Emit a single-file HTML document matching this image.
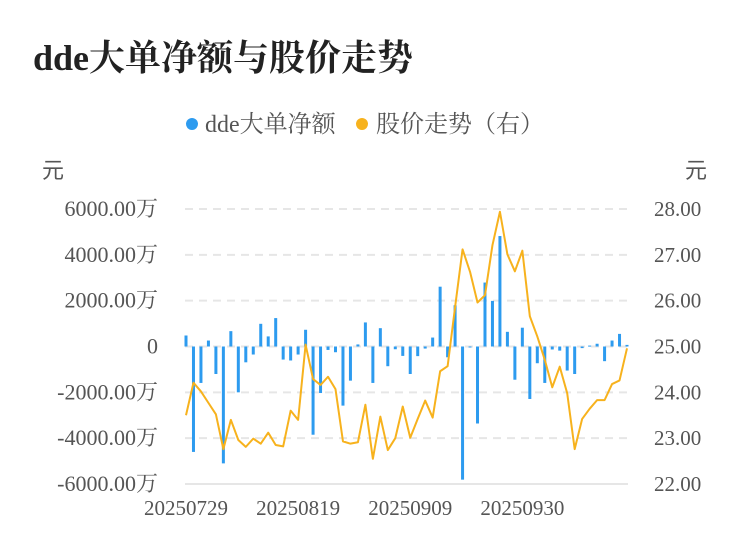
<!DOCTYPE html>
<html><head><meta charset="utf-8"><style>
html,body{margin:0;padding:0;background:#fff;width:750px;height:558px;overflow:hidden}
svg{display:block;font-family:"Liberation Sans","Noto Sans CJK SC",sans-serif}
</style></head><body>
<svg id="chart" width="750" height="558">
<text x="33" y="70" font-size="36" font-weight="bold" fill="#222" font-family="Liberation Serif, Noto Serif CJK SC, serif">dde大单净额与股价走势</text>
<g>
<g><circle cx="192" cy="124" r="6" fill="#2d9bef"/><text x="205" y="132" font-size="24" fill="#555" font-family="Liberation Serif, Noto Serif CJK SC, serif">dde大单净额</text></g>
<g><circle cx="362" cy="124" r="6" fill="#f7b21d"/><text x="376" y="132" font-size="24" fill="#555" font-family="Liberation Serif, Noto Serif CJK SC, serif">股价走势（右）</text></g>
</g>
<text x="42" y="178" font-size="22" fill="#555">元</text>
<text x="685" y="178" font-size="22" fill="#555">元</text>
<g id="grid"></g><g id="bars"></g><g id="line"></g><g id="axes"></g>
</svg>
<script>
const categories=["20250729","20250730","20250731","20250801","20250804","20250805","20250806","20250807","20250808","20250811","20250812","20250813","20250814","20250815","20250818","20250819","20250820","20250821","20250822","20250825","20250826","20250827","20250828","20250829","20250901","20250902","20250903","20250904","20250905","20250908","20250909","20250910","20250911","20250912","20250915","20250916","20250917","20250918","20250919","20250922","20250923","20250924","20250925","20250926","20250929","20250930","20251009","20251010","20251013","20251014","20251015","20251016","20251017","20251020","20251021","20251022","20251023","20251024","20251027","20251028"];
const ddeValues=[480,-4600,-1590,260,-1200,-5100,670,-2000,-690,-350,990,440,1240,-570,-610,-350,730,-3850,-2030,-150,-250,-2580,-1490,90,1050,-1590,800,-860,-120,-410,-1200,-420,-90,390,2610,-470,1800,-5810,-20,-3360,2790,1990,4820,640,-1450,820,-2290,-730,-1590,-130,-180,-1050,-1200,-70,40,120,-640,260,550,70];
const priceValues=[23.50,24.21,24.02,23.77,23.52,22.76,23.40,22.96,22.81,22.99,22.88,23.12,22.85,22.82,23.60,23.40,25.04,24.29,24.16,24.34,24.07,22.93,22.88,22.91,23.73,22.55,23.47,22.74,23.00,23.69,23.01,23.42,23.82,23.45,24.46,24.57,25.86,27.12,26.63,25.96,26.12,27.21,27.94,27.01,26.64,27.09,25.66,25.22,24.71,24.11,24.56,23.98,22.76,23.42,23.64,23.83,23.83,24.18,24.26,24.96];
const leftTicks=[6000,4000,2000,0,-2000,-4000,-6000];
const leftTickLabels=["6000.00万","4000.00万","2000.00万","0","-2000.00万","-4000.00万","-6000.00万"];
const rightTicks=[28,27,26,25,24,23,22];
const rightTickLabels=["28.00","27.00","26.00","25.00","24.00","23.00","22.00"];
const xLabelIdx=[0,15,30,45];

const NS="http://www.w3.org/2000/svg";
const X0=186,X1=627,YT=209,YB=484;
const xPos=i=>X0+(X1-X0)*i/(categories.length-1);
const yL=v=>YT+(6000-v)/12000*(YB-YT);
const yR=v=>YT+(28-v)/6*(YB-YT);
function mk(tag,attrs,parent){const e=document.createElementNS(NS,tag);for(const k in attrs)e.setAttribute(k,attrs[k]);parent.appendChild(e);return e;}
const grid=document.getElementById('grid'),bars=document.getElementById('bars'),line=document.getElementById('line'),axes=document.getElementById('axes');
leftTicks.forEach((t,i)=>{
  const y=yL(t);
  const g=mk('line',{x1:185,x2:628,y1:y,y2:y,stroke:'#e6e6e6','stroke-width':2,'stroke-dasharray':i===leftTicks.length-1?'':'8,6'},grid);
  
  
  const tx=mk('text',{x:158,y:y+7,'font-size':22,fill:'#555','text-anchor':'end','font-family':'Liberation Serif, Noto Serif CJK SC, serif'},axes);
  tx.textContent=leftTickLabels[i];
  
  
});
rightTicks.forEach((t,i)=>{
  const tx=mk('text',{x:654,y:yR(t)+7,'font-size':21,fill:'#555','font-family':'Liberation Serif, serif'},axes);
  tx.textContent=rightTickLabels[i];
  
  
});
xLabelIdx.forEach(i=>{
  const tx=mk('text',{x:xPos(i),y:515,'font-size':21,fill:'#555','text-anchor':'middle','font-family':'Liberation Serif, serif'},axes);
  tx.textContent=categories[i];
  
  
});
ddeValues.forEach((v,i)=>{
  const y0=yL(0),y1=yL(v);
  const r=mk('rect',{x:xPos(i)-1.5,y:Math.min(y0,y1),width:3,height:Math.max(1,Math.abs(y1-y0)),fill:'#2d9bef'},bars);
  
  
});
const p=mk('polyline',{points:priceValues.map((v,i)=>xPos(i)+','+yR(v)).join(' '),fill:'none',stroke:'#f7b21d','stroke-width':2,'stroke-linejoin':'round'},line);


</script>
</body></html>
